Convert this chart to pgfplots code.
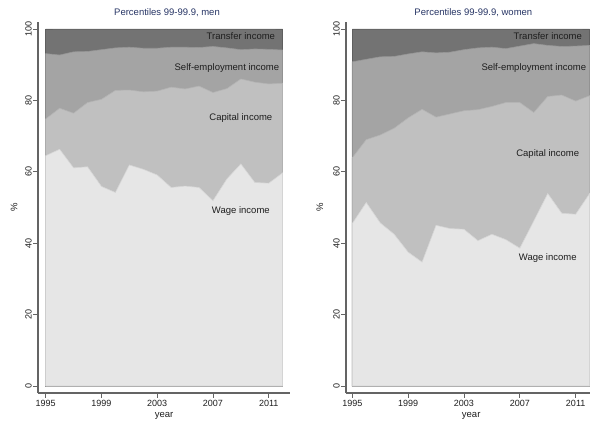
\documentclass[border=0pt]{standalone}
\usepackage{pgfplots}
\pgfplotsset{compat=1.18}
\usepackage{pgfplotstable}
\usepackage{fontspec}
\setmainfont{Liberation Sans}
\definecolor{cwage}{RGB}{230,230,230}
\definecolor{cwaged}{RGB}{214,214,214}
\definecolor{ccap}{RGB}{192,192,192}
\definecolor{ccapd}{RGB}{180,180,180}
\definecolor{cself}{RGB}{164,164,164}
\definecolor{cselfd}{RGB}{150,150,150}
\definecolor{ctr}{RGB}{115,115,115}
\definecolor{ctrd}{RGB}{95,95,95}
\definecolor{ctitle}{RGB}{38,52,100}
\definecolor{caxis}{RGB}{100,100,100}
\definecolor{ctext}{RGB}{30,30,30}
\pgfplotstableread{
year wage cap self tr
1995 64.5 74.8 93.1 100
1996 66.3 77.8 92.7 100
1997 61.1 76.4 93.6 100
1998 61.4 79.4 93.7 100
1999 55.9 80.3 94.2 100
2000 54.2 82.8 94.7 100
2001 61.9 82.9 94.9 100
2002 60.7 82.4 94.6 100
2003 59.1 82.6 94.6 100
2004 55.6 83.7 94.9 100
2005 56.0 83.2 94.9 100
2006 55.6 84.0 94.8 100
2007 51.9 82.2 95.1 100
2008 58.0 83.3 94.7 100
2009 62.2 86.0 94.2 100
2010 57.0 85.1 94.4 100
2011 56.8 84.6 94.3 100
2012 59.7 84.8 94.1 100
}\men
\pgfplotstableread{
year wage cap self tr
1995 45.5 63.9 90.8 100
1996 51.4 69.0 91.5 100
1997 45.7 70.3 92.2 100
1998 42.5 72.2 92.3 100
1999 37.5 75.1 93.0 100
2000 34.7 77.5 93.6 100
2001 45.0 75.3 93.3 100
2002 44.1 76.2 93.5 100
2003 43.9 77.1 94.2 100
2004 40.7 77.4 94.7 100
2005 42.5 78.3 94.9 100
2006 41.0 79.4 94.5 100
2007 38.6 79.4 95.2 100
2008 46.2 76.6 95.9 100
2009 53.9 81.1 95.4 100
2010 48.4 81.5 95.1 100
2011 48.1 79.8 95.2 100
2012 53.9 81.3 95.4 100
}\women
\pgfplotsset{
  panel/.style={
    scale only axis, height=371bp,
    ymin=-1.96, ymax=101.96,
    axis x line=bottom, axis y line=left,
    axis line style={-, draw=caxis, line width=1.1bp},
    tick style={draw=caxis, line width=0.8bp},
    tick align=outside, major tick length=5bp,
    xtick={1995,1999,2003,2007,2011},
    xticklabels={1995,1999,2003,2007,2011},
    ytick={0,20,40,60,80,100},
    /pgf/number format/assume math mode=true,
    ticklabel style={font=\fontsize{9bp}{10bp}\selectfont, text=ctext},
    yticklabel style={rotate=90, anchor=south, inner sep=1bp},
    xticklabel style={inner sep=2bp},
    label style={font=\fontsize{9.5bp}{11bp}\selectfont, text=ctext},
    ylabel={\%},
    xlabel={year},
    clip=false,
  },
}
\tikzset{
  ar/.style={line width=0.6bp},
  lab/.style={font=\fontsize{9.5bp}{11bp}\selectfont, text=ctext, inner sep=0pt},
}
\begin{document}
\begin{tikzpicture}
\path[use as bounding box] (0,0) rectangle (590bp,425bp);
\begin{axis}[panel, at={(38bp,32bp)}, anchor=south west, width=252bp,
  xmin=1994.448, xmax=2012.525,
  ylabel style={at={(axis description cs:-0.095,0.5)}, anchor=center},
  xlabel style={at={(axis description cs:0.5,-0.062)}, anchor=center}]
\addplot[fill=ctr, draw=ctrd, ar] table[x=year,y=tr]{\men} \closedcycle;
\addplot[fill=cself, draw=cselfd, ar] table[x=year,y=self]{\men} \closedcycle;
\addplot[fill=ccap, draw=ccapd, ar] table[x=year,y=cap]{\men} \closedcycle;
\addplot[fill=cwage, draw=cwaged, ar] table[x=year,y=wage]{\men} \closedcycle;
\node[lab] at (axis cs:2009.0,98.1) {Transfer income};
\node[lab] at (axis cs:2008.0,89.0) {Self-employment income};
\node[lab] at (axis cs:2009.0,75.0) {Capital income};
\node[lab] at (axis cs:2009.0,49.1) {Wage income};
\node[font=\fontsize{9.5bp}{11bp}\selectfont, text=ctitle] at (rel axis cs:0.512,1.024) {Percentiles 99-99.9, men};
\end{axis}
\begin{axis}[panel, at={(346bp,32bp)}, anchor=south west, width=244bp,
  xmin=1994.55, xmax=2012.027,
  ylabel style={at={(axis description cs:-0.107,0.5)}, anchor=center},
  xlabel style={at={(axis description cs:0.513,-0.062)}, anchor=center}]
\addplot[fill=ctr, draw=ctrd, ar] table[x=year,y=tr]{\women} \closedcycle;
\addplot[fill=cself, draw=cselfd, ar] table[x=year,y=self]{\women} \closedcycle;
\addplot[fill=ccap, draw=ccapd, ar] table[x=year,y=cap]{\women} \closedcycle;
\addplot[fill=cwage, draw=cwaged, ar] table[x=year,y=wage]{\women} \closedcycle;
\node[lab] at (axis cs:2009.0,98.1) {Transfer income};
\node[lab] at (axis cs:2008.0,89.0) {Self-employment income};
\node[lab] at (axis cs:2009.0,64.9) {Capital income};
\node[lab] at (axis cs:2009.0,35.9) {Wage income};
\node[font=\fontsize{9.5bp}{11bp}\selectfont, text=ctitle] at (rel axis cs:0.522,1.024) {Percentiles 99-99.9, women};
\end{axis}
\end{tikzpicture}
\end{document}
